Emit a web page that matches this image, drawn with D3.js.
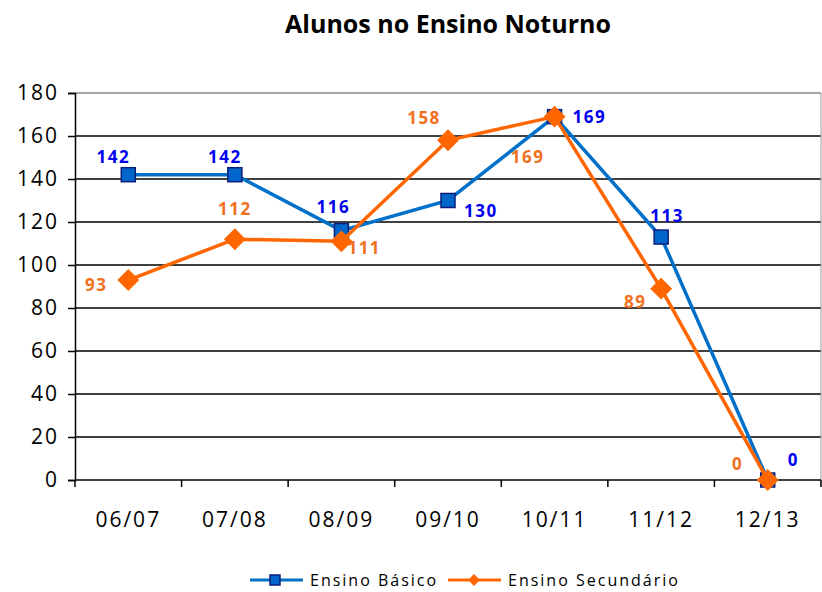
<!DOCTYPE html>
<html>
<head>
<meta charset="utf-8">
<script src="https://cdn.jsdelivr.net/npm/d3@7"></script>
<style>
  body { margin: 0; background: #fff; }
  svg text { font-family: "Open Sans", "Liberation Sans", sans-serif; }
</style>
</head>
<body>
<div id="container"></div>
<script>
const years = ["06/07", "07/08", "08/09", "09/10", "10/11", "11/12", "12/13"];
const basico = [142, 142, 116, 130, 169, 113, 0];
const secundario = [93, 112, 111, 158, 169, 89, 0];
const yTicks = [0, 20, 40, 60, 80, 100, 120, 140, 160, 180];

// label offsets per point (dx, dy, anchor)
const basicoLabelPos = [
  [-15, -12, "middle"], [-10, -12, "middle"], [-8, -18, "middle"], [16, 16, "start"],
  [18, 6, "start"], [6, -15, "middle"], [20, -14, "start"]
];
const secLabelPos = [
  [-32, 11, "middle"], [0, -24, "middle"], [6, 13, "start"], [-24, -16, "middle"],
  [-27, 46, "middle"], [-26, 19, "middle"], [-30, -10, "middle"]
];

const W = 822, H = 592;
const margin = { top: 93, right: 1, bottom: 112, left: 75 };
const width = W - margin.left - margin.right,
      height = H - margin.top - margin.bottom;

const svg = d3.select("#container").append("svg")
    .attr("width", W).attr("height", H);

svg.append("text")
    .attr("x", 448).attr("y", 33)
    .attr("text-anchor", "middle")
    .attr("font-size", 25).attr("font-weight", "bold")
    .text("Alunos no Ensino Noturno");

const g = svg.append("g")
    .attr("transform", "translate(" + margin.left + "," + margin.top + ")");

const x = d3.scaleBand().domain(years).range([0, width]);
const y = d3.scaleLinear().domain([0, 180]).range([height, 0]);

// gridlines
g.selectAll(".grid").data(yTicks.filter(d => d > 0))
  .enter().append("line")
    .attr("x1", 0).attr("x2", width)
    .attr("y1", d => y(d)).attr("y2", d => y(d))
    .attr("stroke", d => d === 180 ? "#888" : "#000")
    .attr("stroke-width", 1.5);

// right border
g.append("line")
    .attr("x1", width).attr("x2", width).attr("y1", 0).attr("y2", height)
    .attr("stroke", "#999").attr("stroke-width", 1);

// y axis
const yAxis = g.append("g")
    .call(d3.axisLeft(y).tickValues(yTicks).tickSize(7).tickPadding(9));
yAxis.select(".domain").attr("stroke", "#000").attr("stroke-width", 1.5);
yAxis.selectAll(".tick line").attr("stroke-width", 1.5);
yAxis.selectAll("text").attr("font-size", 21).attr("fill", "#000")
    .attr("letter-spacing", 2)
    .style("font-family", "'Open Sans', sans-serif");

// x axis with ticks between categories
const xAxisG = g.append("g").attr("transform", "translate(0," + height + ")");
xAxisG.append("line").attr("x1", 0).attr("x2", width)
    .attr("stroke", "#000").attr("stroke-width", 1.5);
const boundaries = years.map(d => x(d)).concat([width]);
xAxisG.selectAll(".xt").data(boundaries).enter().append("line")
    .attr("x1", d => d).attr("x2", d => d).attr("y1", 0).attr("y2", 7)
    .attr("stroke", "#000").attr("stroke-width", 1.5);
xAxisG.selectAll(".xl").data(years).enter().append("text")
    .attr("x", d => x(d) + x.bandwidth() / 2)
    .attr("y", 47)
    .attr("text-anchor", "middle")
    .attr("font-size", 21).attr("letter-spacing", 2)
    .text(d => d);

const cx = (d, i) => x(years[i]) + x.bandwidth() / 2;
const line = d3.line().x((d, i) => cx(d, i)).y(d => y(d));

// Ensino Básico
g.append("path").datum(basico)
    .attr("fill", "none").attr("stroke", "#0070C8").attr("stroke-width", 3.5)
    .attr("d", line);
g.selectAll(".sq").data(basico).enter().append("rect")
    .attr("x", (d, i) => cx(d, i) - 7).attr("y", d => y(d) - 7)
    .attr("width", 14).attr("height", 14)
    .attr("fill", "#0066CC").attr("stroke", "#0A1E78").attr("stroke-width", 1.5);

// Ensino Secundário
g.append("path").datum(secundario)
    .attr("fill", "none").attr("stroke", "#FF6600").attr("stroke-width", 3.5)
    .attr("d", line);
g.selectAll(".dm").data(secundario).enter().append("path")
    .attr("d", d3.symbol().type(d3.symbolSquare).size(240))
    .attr("transform", (d, i) => "translate(" + cx(d, i) + "," + y(d) + ") rotate(45)")
    .attr("fill", "#FF6600");

// data labels
g.selectAll(".lb").data(basico).enter().append("text")
    .attr("x", (d, i) => cx(d, i) + basicoLabelPos[i][0])
    .attr("y", (d, i) => y(d) + basicoLabelPos[i][1])
    .attr("text-anchor", (d, i) => basicoLabelPos[i][2])
    .attr("font-size", 17).attr("font-weight", "bold").attr("fill", "#0000F0")
    .attr("letter-spacing", 1.5)
    .text(d => d);
g.selectAll(".ls").data(secundario).enter().append("text")
    .attr("x", (d, i) => cx(d, i) + secLabelPos[i][0])
    .attr("y", (d, i) => y(d) + secLabelPos[i][1])
    .attr("text-anchor", (d, i) => secLabelPos[i][2])
    .attr("font-size", 17).attr("font-weight", "bold").attr("fill", "#F07020")
    .attr("letter-spacing", 1.5)
    .text(d => d);

// legend
const legend = svg.append("g").attr("transform", "translate(0,580)");
legend.append("line").attr("x1", 250).attr("x2", 303).attr("y1", 0).attr("y2", 0)
    .attr("stroke", "#0070C8").attr("stroke-width", 3);
legend.append("rect").attr("x", 270).attr("y", -5).attr("width", 10).attr("height", 10)
    .attr("fill", "#0066CC").attr("stroke", "#0A1E78").attr("stroke-width", 1.5);
legend.append("text").attr("x", 310).attr("y", 6).attr("font-size", 16)
    .attr("letter-spacing", 2).text("Ensino Básico");
legend.append("line").attr("x1", 448).attr("x2", 501).attr("y1", 0).attr("y2", 0)
    .attr("stroke", "#FF6600").attr("stroke-width", 3);
legend.append("path")
    .attr("d", d3.symbol().type(d3.symbolSquare).size(70))
    .attr("transform", "translate(474,0) rotate(45)")
    .attr("fill", "#FF6600");
legend.append("text").attr("x", 508).attr("y", 6).attr("font-size", 16)
    .attr("letter-spacing", 2).text("Ensino Secundário");
</script>
</body>
</html>
